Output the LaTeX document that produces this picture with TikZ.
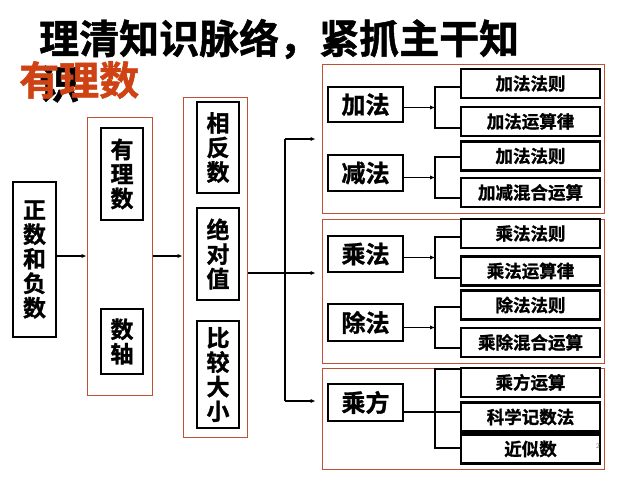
\documentclass[tikz,border=0pt]{standalone}
\usepackage{fontspec}
\newfontfamily\cjk{Noto Sans CJK SC}[BoldFont={Noto Sans CJK SC Bold}, BoldFeatures={FakeBold=1.2}]
\usetikzlibrary{arrows.meta,calc}
\definecolor{redtxt}{RGB}{206,66,20}
\definecolor{redln}{RGB}{190,82,52}
\begin{document}
\begin{tikzpicture}[x=1pt,y=-1pt,
 grp/.style={draw=redln, line width=1pt, inner sep=0pt},
 bigbox/.style={draw, line width=2.4pt, fill=white, inner sep=0pt, align=center, minimum width=42pt, font=\cjk\bfseries\fontsize{23}{24.5}\selectfont},
 midbox/.style={draw, line width=2.4pt, fill=white, inner sep=0pt, minimum width=75pt, font=\cjk\bfseries\fontsize{24}{24}\selectfont},
 smallbox/.style={draw, line width=2.2pt, fill=white, inner sep=0pt, minimum width=139pt, minimum height=29pt, font=\cjk\bfseries\fontsize{17.5}{17.5}\selectfont},
 ttl/.style={anchor=west, inner sep=0pt, font=\cjk\bfseries\fontsize{40}{40}\selectfont},
 conn/.style={line width=1.8pt},
 arr/.style={conn, -{Latex[length=5pt,width=4.5pt]}}
]
\useasboundingbox (0,0) rectangle (640,480);
\fill[white] (0,0) rectangle (640,480);

% title
\node[ttl] (t1) at (39,39) {理清知识脉络，紧抓主干知};
\node[ttl] (t2) at (39,84) {识};
\node[ttl, text=redtxt] (t3) at (19,80) {有理数};

% red group frames
\node[grp, minimum width=65pt, minimum height=278pt] (r1) at (119.5,256) {};
\node[grp, minimum width=64pt, minimum height=340pt] (r2) at (215,267) {};
\node[grp, minimum width=282pt, minimum height=149pt] (g1) at (463,138.5) {};
\node[grp, minimum width=282pt, minimum height=144pt] (g2) at (463,291) {};
\node[grp, minimum width=282pt, minimum height=101pt] (g3) at (463,418.5) {};

% left column boxes
\node[bigbox, minimum width=43pt, minimum height=155pt] (zf) at (34.5,259.5) {正\\数\\和\\负\\数};
\node[bigbox, minimum height=92pt] (yls) at (122,174) {有\\理\\数};
\node[bigbox, minimum height=65pt] (szh) at (122,341.5) {数\\轴};
\node[bigbox, minimum height=91pt] (xfs) at (218,147.5) {相\\反\\数};
\node[bigbox, minimum height=92pt] (jdz) at (218,254) {绝\\对\\值};
\node[bigbox, minimum height=107pt] (bjdx) at (218,374.5) {比\\较\\大\\小};

% operation boxes
\node[midbox, minimum height=35pt] (jf) at (365.5,104.5) {加法};
\node[midbox, minimum height=36pt] (jianf) at (365.5,173) {减法};
\node[midbox, minimum height=36pt] (cf) at (365.5,254) {乘法};
\node[midbox, minimum height=37pt] (chuf) at (365.5,322.5) {除法};
\node[midbox, minimum height=37pt] (cfang) at (365.5,402.5) {乘方};

% detail boxes
\node[smallbox] (a1) at (530.5,83.5) {加法法则};
\node[smallbox] (a2) at (530.5,121.5) {加法运算律};
\node[smallbox] (a3) at (530.5,156) {加法法则};
\node[smallbox] (a4) at (530.5,192.5) {加减混合运算};
\node[smallbox] (m1) at (530.5,233.5) {乘法法则};
\node[smallbox] (m2) at (530.5,271) {乘法运算律};
\node[smallbox] (m3) at (530.5,305) {除法法则};
\node[smallbox] (m4) at (530.5,342.5) {乘除混合运算};
\node[smallbox] (p1) at (530.5,382.5) {乘方运算};
\node[smallbox] (p2) at (530.5,417) {科学记数法};
\node[smallbox] (p3) at (530.5,449) {近似数};

% slide number
\node[inner sep=0pt, text=gray, font=\sffamily\fontsize{7}{7}\selectfont] (pg) at (598,446) {2};

% main flow
\draw[arr] (zf.east |- r1.west) -- (r1.west);
\draw[arr] (r1.east) -- (r1.east -| r2.west);

\coordinate (b1) at (285,139);
\coordinate (b2) at (285,273);
\coordinate (b3) at (285,401);
\draw[conn] (r2.east |- b2) -- (b2);
\draw[conn] (b1) -- (b3);
\draw[arr, shorten >=6pt] (b1) -- (b1 -| g1.west);
\draw[arr, shorten >=6pt] (b2) -- (b2 -| g2.west);
\draw[arr, shorten >=6pt] (b3) -- (b3 -| g3.west);

% brackets
\coordinate (k1a) at (435,87);  \coordinate (k1b) at (435,128); \coordinate (k1m) at (435,107.5);
\draw[conn] (k1a -| a1.west) -- (k1a) -- (k1b) -- (k1b -| a2.west);
\draw[arr] (jf.east |- k1m) -- (k1m);

\coordinate (k2a) at (435,157); \coordinate (k2b) at (435,198); \coordinate (k2m) at (435,177.5);
\draw[conn] (k2a -| a3.west) -- (k2a) -- (k2b) -- (k2b -| a4.west);
\draw[arr] (jianf.east |- k2m) -- (k2m);

\coordinate (k3a) at (435,237); \coordinate (k3b) at (435,278); \coordinate (k3m) at (435,257.5);
\draw[conn] (k3a -| m1.west) -- (k3a) -- (k3b) -- (k3b -| m2.west);
\draw[arr] (cf.east |- k3m) -- (k3m);

\coordinate (k4a) at (435,307); \coordinate (k4b) at (435,348); \coordinate (k4m) at (435,327.5);
\draw[conn] (k4a -| m3.west) -- (k4a) -- (k4b) -- (k4b -| m4.west);
\draw[arr] (chuf.east |- k4m) -- (k4m);

\coordinate (k5a) at (435,369); \coordinate (k5b) at (435,448); \coordinate (k5m) at (435,412);
\draw[conn] (k5a -| p1.west) -- (k5a) -- (k5b) -- (k5b -| p3.west);
\draw[conn] (cfang.east |- k5m) -- (k5m -| p2.west);
\end{tikzpicture}
\end{document}
